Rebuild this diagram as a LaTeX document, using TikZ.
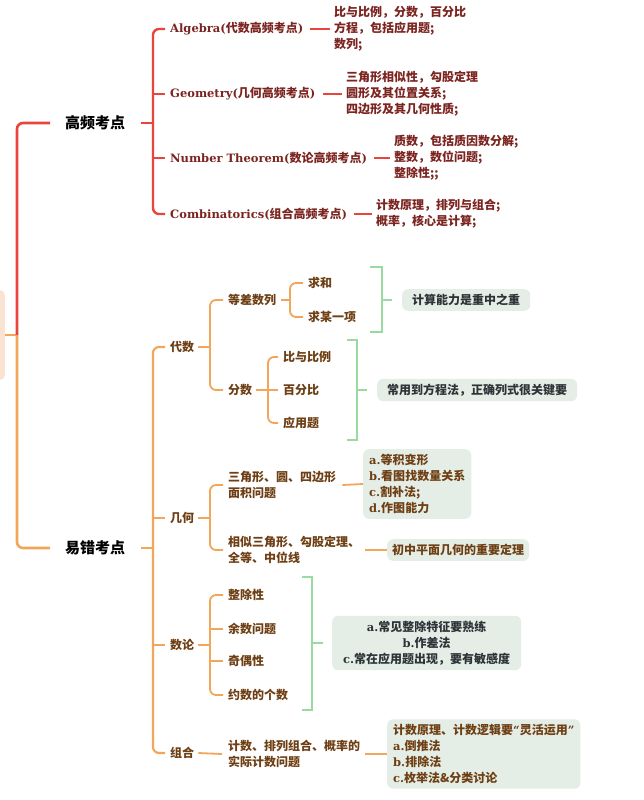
\documentclass[tikz,border=0pt]{standalone}
\usepackage{fontspec}
\setmainfont{Noto Sans CJK SC}
\newfontfamily\ser{DejaVu Serif}
\definecolor{cred}{HTML}{E8453C}
\definecolor{corg}{HTML}{F2A65A}
\definecolor{cgrn}{HTML}{9AD9A0}
\definecolor{cbox}{HTML}{E5EEE6}
\definecolor{tred}{HTML}{7B2420}
\definecolor{tbrn}{HTML}{6E3F14}
\definecolor{tdark}{HTML}{2E3338}
\definecolor{cpeach}{HTML}{FBE3D4}
\newcommand\la[1]{{\ser\fontsize{11.5}{16}\selectfont #1}}
\tikzset{
  lvlzero/.style={font=\fontsize{15}{18}\selectfont\bfseries, text=black, anchor=west, inner sep=2pt},
  rtxt/.style={font=\fontsize{12}{16}\selectfont\bfseries, text=tred, anchor=west, inner sep=2pt, align=left},
  otxt/.style={font=\fontsize{12}{16}\selectfont\bfseries, text=tbrn, anchor=west, inner sep=2pt, align=left},
  sbox/.style={fill=cbox, rounded corners=6pt, anchor=west, font=\fontsize{12}{16}\selectfont\bfseries, inner ysep=5pt},
  redln/.style={draw=cred, line width=2.4pt, rounded corners=6pt},
  orgln/.style={draw=corg, line width=2.2pt, rounded corners=6pt},
  orgthin/.style={draw=corg, line width=1.8pt, rounded corners=6pt},
  grnln/.style={draw=cgrn, line width=1.8pt},
}
\begin{document}
\begin{tikzpicture}[x=1pt,y=-1pt]
\path[use as bounding box, fill=white] (0,0) rectangle (643,800);
% root
\node[fill=cpeach, rounded corners=5pt, minimum width=25pt, minimum height=90pt, anchor=east, inner sep=0pt] (root) at (5,335) {};
\coordinate (rj) at (17,335);
\node[lvlzero] (hf) at (63,123) {高频考点};
\node[lvlzero] (yc) at (63,548) {易错考点};
\draw[orgln, line width=2.6pt] (root.east) -- (rj);
\draw[redln, line width=2.6pt] (rj) -- (rj |- hf.west) -- ([xshift=-13pt]hf.west);
\draw[orgln, line width=2.6pt] (rj) -- (rj |- yc.west) -- ([xshift=-13pt]yc.west);

% ---------- high frequency (red)
\coordinate (bA) at (153,0);
\node[rtxt] (al) at (168,29) {\la{Algebra(}代数高频考点\la{)}};
\node[rtxt] (ge) at (168,94) {\la{Geometry(}几何高频考点\la{)}};
\node[rtxt] (nt) at (168,158) {\la{Number Theorem(}数论高频考点\la{)}};
\node[rtxt] (co) at (168,214) {\la{Combinatorics(}组合高频考点\la{)}};
\draw[redln] ([xshift=14pt]hf.east) -- (bA |- hf.east);
\draw[redln] ([xshift=-3pt]al.west) -- (bA |- al.west) -- (bA |- co.west) -- ([xshift=-3pt]co.west);
\draw[redln] (bA |- ge.west) -- ([xshift=-3pt]ge.west);
\draw[redln] (bA |- nt.west) -- ([xshift=-3pt]nt.west);

\node[rtxt] (ald) at (332,29) {比与比例，分数，百分比\\方程，包括应用题;\\数列;};
\node[rtxt] (ged) at (344,94) {三角形相似性，勾股定理\\圆形及其位置关系;\\四边形及其几何性质;};
\node[rtxt] (ntd) at (392,158) {质数，包括质因数分解;\\整数，数位问题;\\整除性;;};
\node[rtxt] (cod) at (374,214) {计数原理，排列与组合;\\概率，核心是计算;};
\draw[redln, line width=1.8pt] ([xshift=5pt]al.east) -- ([xshift=-2pt]ald.west);
\draw[redln, line width=1.8pt] ([xshift=5pt]ge.east) -- ([xshift=-2pt]ged.west);
\draw[redln, line width=1.8pt] ([xshift=5pt]nt.east) -- ([xshift=-2pt]ntd.west);
\draw[redln, line width=1.8pt] ([xshift=5pt]co.east) -- ([xshift=-2pt]cod.west);

% ---------- error-prone (orange)
\coordinate (bB) at (153,0);
\coordinate (bC) at (210,0);
\node[otxt] (ds) at (168,347) {代数};
\node[otxt] (jh) at (168,518) {几何};
\node[otxt] (sl) at (168,645) {数论};
\node[otxt] (zh) at (168,753) {组合};
\draw[orgln] ([xshift=14pt]yc.east) -- (bB |- yc.east);
\draw[orgln] ([xshift=-3pt]ds.west) -- (bB |- ds.west) -- (bB |- zh.west) -- ([xshift=-3pt]zh.west);
\draw[orgln] (bB |- jh.west) -- ([xshift=-3pt]jh.west);
\draw[orgln] (bB |- sl.west) -- ([xshift=-3pt]sl.west);

% algebra subtree
\node[otxt] (dc) at (226,300) {等差数列};
\node[otxt] (fs) at (226,390) {分数};
\draw[orgthin] ([xshift=2pt]ds.east) -- (bC |- ds.east);
\draw[orgthin] ([xshift=-3pt]dc.west) -- (bC |- dc.west) -- (bC |- fs.west) -- ([xshift=-3pt]fs.west);

\coordinate (bD) at (290,0);
\node[otxt] (qh) at (306,283) {求和};
\node[otxt] (qm) at (306,317) {求某一项};
\draw[orgthin] ([xshift=3pt]dc.east) -- (bD |- dc.east);
\draw[orgthin] ([xshift=-3pt]qh.west) -- (bD |- qh.west) -- (bD |- qm.west) -- ([xshift=-3pt]qm.west);

\coordinate (bE) at (268,0);
\node[otxt] (bl) at (281,357) {比与比例};
\node[otxt] (bf) at (281,390) {百分比};
\node[otxt] (yy) at (281,423) {应用题};
\draw[orgthin] ([xshift=2pt]fs.east) -- (bE |- fs.east);
\draw[orgthin] ([xshift=-3pt]bl.west) -- (bE |- bl.west) -- (bE |- yy.west) -- ([xshift=-3pt]yy.west);
\draw[orgthin] (bE |- bf.west) -- ([xshift=-3pt]bf.west);

% summary 1
\node[sbox, text=tdark, inner xsep=10pt] (ga) at (402,300) {计算能力是重中之重};
\coordinate (ga1) at (370,267);
\coordinate (ga2) at (382,267);
\coordinate (ga3) at (382,332);
\coordinate (ga4) at (370,332);
\draw[grnln] (ga1) -- (ga2) -- (ga3) -- (ga4);
\draw[grnln] (ga2 |- ga.west) -- ([xshift=-10pt]ga.west);

% summary 2
\node[sbox, text=tdark, inner xsep=10pt] (gb) at (377,390) {常用到方程法，正确列式很关键要};
\coordinate (gb1) at (347,340);
\coordinate (gb2) at (357,340);
\coordinate (gb3) at (357,440);
\coordinate (gb4) at (347,440);
\draw[grnln] (gb1) -- (gb2) -- (gb3) -- (gb4);
\draw[grnln] (gb2 |- gb.west) -- ([xshift=-10pt]gb.west);

% geometry subtree
\node[otxt] (ja) at (226,485) {三角形、圆、四边形\\面积问题};
\node[otxt] (jb) at (226,550) {相似三角形、勾股定理、\\全等、中位线};
\draw[orgthin] ([xshift=2pt]jh.east) -- (bC |- jh.east);
\draw[orgthin] ([xshift=-3pt]ja.west) -- (bC |- ja.west) -- (bC |- jb.west) -- ([xshift=-3pt]jb.west);

\node[sbox, text=tbrn, inner xsep=6pt, align=left] (gc) at (363,484) {\la{a.}等积变形\\\la{b.}看图找数量关系\\\la{c.}割补法;\\\la{d.}作图能力};
\node[sbox, text=tbrn, inner xsep=5pt] (gd) at (387,550) {初中平面几何的重要定理};
\draw[orgthin] ([xshift=4pt]ja.east) -- (gc.west);
\draw[orgthin] ([xshift=3pt]jb.east) -- (gd.west);

% number theory subtree
\node[otxt] (za) at (226,595) {整除性};
\node[otxt] (zb) at (226,629) {余数问题};
\node[otxt] (zc) at (226,661) {奇偶性};
\node[otxt] (zd) at (226,695) {约数的个数};
\draw[orgthin] ([xshift=2pt]sl.east) -- (bC |- sl.east);
\draw[orgthin] ([xshift=-3pt]za.west) -- (bC |- za.west) -- (bC |- zd.west) -- ([xshift=-3pt]zd.west);
\draw[orgthin] (bC |- zb.west) -- ([xshift=-3pt]zb.west);
\draw[orgthin] (bC |- zc.west) -- ([xshift=-3pt]zc.west);

\node[sbox, text=tdark, inner xsep=11pt, align=center] (ge5) at (332,643) {\la{a.}常见整除特征要熟练\\\la{b.}作差法\\\la{c.}常在应用题出现，要有敏感度};
\coordinate (gc1) at (302,577);
\coordinate (gc2) at (312,577);
\coordinate (gc3) at (312,710);
\coordinate (gc4) at (302,710);
\draw[grnln] (gc1) -- (gc2) -- (gc3) -- (gc4);
\draw[grnln] (gc2 |- ge5.west) -- ([xshift=-9pt]ge5.west);

% combinatorics subtree
\node[otxt] (zha) at (226,754) {计数、排列组合、概率的\\实际计数问题};
\draw[orgthin] ([xshift=2pt]zh.east) -- ([xshift=-4pt]zha.west);
\node[sbox, text=tbrn, inner xsep=6pt, align=left] (gf) at (387,754) {计数原理、计数逻辑要\la{“}灵活运用\la{”}\\\la{a.}倒推法\\\la{b.}排除法\\\la{c.}枚举法\&分类讨论};
\draw[orgthin] ([xshift=3pt]zha.east) -- (gf.west);
\end{tikzpicture}
\end{document}
